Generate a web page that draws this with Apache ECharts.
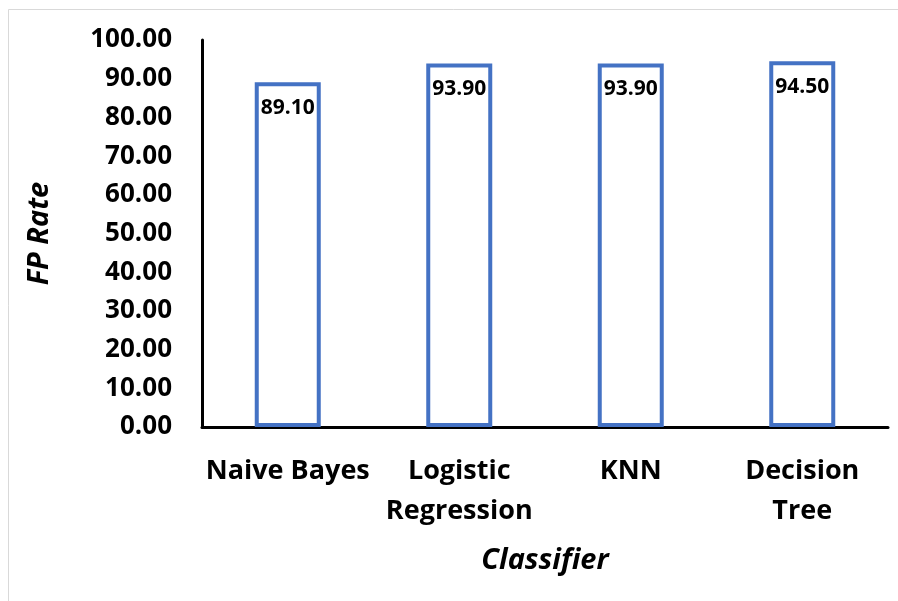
<!DOCTYPE html>
<html>
<head>
<meta charset="utf-8">
<script src="https://cdn.jsdelivr.net/npm/echarts@6/dist/echarts.min.js"></script>
<style>
  html, body { margin: 0; padding: 0; background: #fff; }
  #chart { width: 898px; height: 601px; }
</style>
</head>
<body>
<div id="chart"></div>
<script>
// Classifiers and their FP rate (%)
const classifiers = ['Naive Bayes', 'Logistic\nRegression', 'KNN', 'Decision\nTree'];
const fpRate = [89.10, 93.90, 93.90, 94.50];
const yTicks = { min: 0, max: 100, step: 10 };

const FONT = '"Open Sans", Lato, sans-serif';

const chart = echarts.init(document.getElementById('chart'), null, { renderer: 'canvas' });

chart.setOption({
  backgroundColor: '#ffffff',
  animation: false,
  graphic: [{
    type: 'rect',
    shape: { x: 8.5, y: 9.5, width: 1000, height: 1000 },
    style: { fill: 'none', stroke: '#d9d9d9', lineWidth: 1 },
    silent: true
  }],
  grid: { left: 202, right: 10, top: 40, bottom: 174, containLabel: false },
  xAxis: {
    type: 'category',
    data: classifiers,
    axisLine: { show: true, lineStyle: { color: '#000', width: 3 } },
    axisTick: { show: false },
    axisLabel: {
      interval: 0,
      margin: 24,
      color: '#000',
      fontFamily: FONT,
      fontWeight: 'bold',
      fontSize: 27,
      lineHeight: 40
    },
    name: 'Classifier',
    nameLocation: 'middle',
    nameGap: 119,
    nameTextStyle: {
      color: '#000',
      fontFamily: FONT,
      fontWeight: 'bold',
      fontStyle: 'italic',
      fontSize: 29
    }
  },
  yAxis: {
    type: 'value',
    min: yTicks.min,
    max: yTicks.max,
    interval: yTicks.step,
    axisLine: { show: true, lineStyle: { color: '#000', width: 3 } },
    axisTick: { show: false },
    splitLine: { show: false },
    axisLabel: {
      margin: 30,
      color: '#000',
      fontFamily: FONT,
      fontWeight: 'bold',
      fontSize: 26,
      formatter: v => v.toFixed(2)
    },
    name: 'FP Rate',
    nameLocation: 'middle',
    nameGap: 148,
    nameRotate: 90,
    nameTextStyle: {
      color: '#000',
      fontFamily: FONT,
      fontWeight: 'bold',
      fontStyle: 'italic',
      fontSize: 29
    }
  },
  series: [{
    type: 'bar',
    data: fpRate,
    barWidth: 66,
    itemStyle: { color: '#ffffff', borderColor: '#4472C4', borderWidth: 4 },
    label: {
      show: true,
      position: 'insideTop',
      distance: 15,
      color: '#000',
      fontFamily: FONT,
      fontWeight: 'bold',
      fontSize: 21,
      formatter: p => p.value.toFixed(2)
    }
  }]
});
</script>
</body>
</html>
